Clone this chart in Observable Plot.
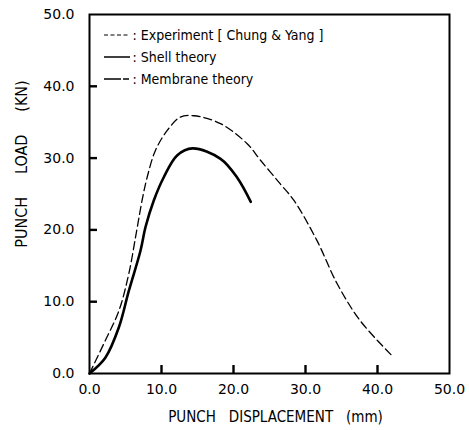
<!DOCTYPE html>
<html><head><meta charset="utf-8">
<script src="https://cdn.jsdelivr.net/npm/d3@7"></script>
<script src="https://cdn.jsdelivr.net/npm/@observablehq/plot@0.6"></script>
<style>body{margin:0;background:#fff}</style>
</head><body><div id="chart"></div>
<script>
// Experiment (Chung & Yang) - dashed curve
const expX = [0, 2.2, 4.07, 5.46, 6.5, 7.3, 8.0, 9.17, 10.8, 12.6, 14.5, 18.2, 21.9, 23.75, 26.5, 28.4, 31.6, 34.4, 37.6, 42.0];
const expY = [0, 4.6, 8.7, 13.9, 19.6, 24.1, 27.3, 31.1, 33.85, 35.7, 35.9, 34.8, 32.0, 29.7, 26.4, 24.1, 18.5, 12.5, 7.35, 2.5];
// Shell theory - solid curve
const shellX = [0, 2.2, 4.07, 5.46, 7.08, 7.78, 8.93, 10.3, 12.2, 14.3, 18.2, 20.5, 22.4];
const shellY = [0, 2.2, 6.4, 11.5, 17.1, 20.4, 24.1, 27.3, 30.4, 31.35, 29.9, 27.3, 23.9];

const xTicks = [0, 10, 20, 30, 40, 50];
const yTicks = [0, 10, 20, 30, 40, 50];
const innerTicks = [10, 20, 30, 40];
const legendLabels = ["Experiment [ Chung & Yang ]", "Shell theory", "Membrane theory"];
const xLabel = "PUNCH   DISPLACEMENT   (mm)";
const yLabel = "PUNCH     LOAD     (KN)";

const exp = expX.map((x, i) => ({x, y: expY[i]}));
const shell = shellX.map((x, i) => ({x, y: shellY[i]}));
const fmt = d => d.toFixed(1);

const W = 469, H = 430, ML = 89, MR = 20, MT = 14, MB = 57, TICK = 8;

const plot = Plot.plot({
  width: W, height: H,
  marginLeft: ML, marginRight: MR, marginTop: MT, marginBottom: MB,
  style: {fontFamily: "DejaVu Sans", fontSize: "14px", background: "white", color: "black"},
  x: {domain: [0, 50]},
  y: {domain: [0, 50]},
  marks: [
    Plot.axisX(xTicks, {tickSize: 0, tickPadding: 11, tickFormat: fmt, fontSize: 14, label: null}),
    Plot.axisY(yTicks, {tickSize: 0, tickPadding: 15, tickFormat: fmt, fontSize: 14, label: null}),
    Plot.frame({strokeWidth: 2}),
    Plot.ruleX(innerTicks, {x: d => d, y1: 0, y2: 50 * TICK / (H - MT - MB), stroke: "black", strokeWidth: 2.4}),
    Plot.ruleY(innerTicks, {y: d => d, x1: 0, x2: 50 * TICK / (W - ML - MR), stroke: "black", strokeWidth: 2.4}),
    Plot.line(exp, {x: "x", y: "y", stroke: "black", strokeWidth: 1.3, strokeDasharray: "8,4", curve: "catmull-rom"}),
    Plot.line(shell, {x: "x", y: "y", stroke: "black", strokeWidth: 2.6, curve: "catmull-rom"}),
    Plot.text([xLabel], {frameAnchor: "bottom", dx: 6, dy: 44, fontSize: 15, fontFamily: "DejaVu Sans Condensed", textAnchor: "middle", lineAnchor: "middle"}),
    Plot.text([yLabel], {frameAnchor: "left", rotate: -90, dx: -68, dy: -30, fontSize: 16, fontFamily: "DejaVu Sans Condensed", textAnchor: "middle", lineAnchor: "middle"}),
    ...legendLabels.map((t, i) => Plot.text([": " + t], {
      frameAnchor: "top-left", dx: 43, dy: 21 + i * 22, textAnchor: "start", lineAnchor: "middle",
      fontSize: 14, fontFamily: "DejaVu Sans Condensed"
    }))
  ]
});

const svg = d3.select(plot);

// legend line samples
const legendStyles = [
  {dash: "4,2.5", w: 1.2},
  {dash: null, w: 1.5},
  {dash: "17,2,6,100", w: 1.3}
];
legendStyles.forEach((s, i) => {
  const yy = MT + 21 + i * 22;
  const l = svg.append("line")
    .attr("x1", ML + 15).attr("x2", ML + 41)
    .attr("y1", yy).attr("y2", yy)
    .attr("stroke", "black").attr("stroke-width", s.w);
  if (s.dash) l.attr("stroke-dasharray", s.dash);
});

document.getElementById("chart").appendChild(plot);
</script>
</body></html>
